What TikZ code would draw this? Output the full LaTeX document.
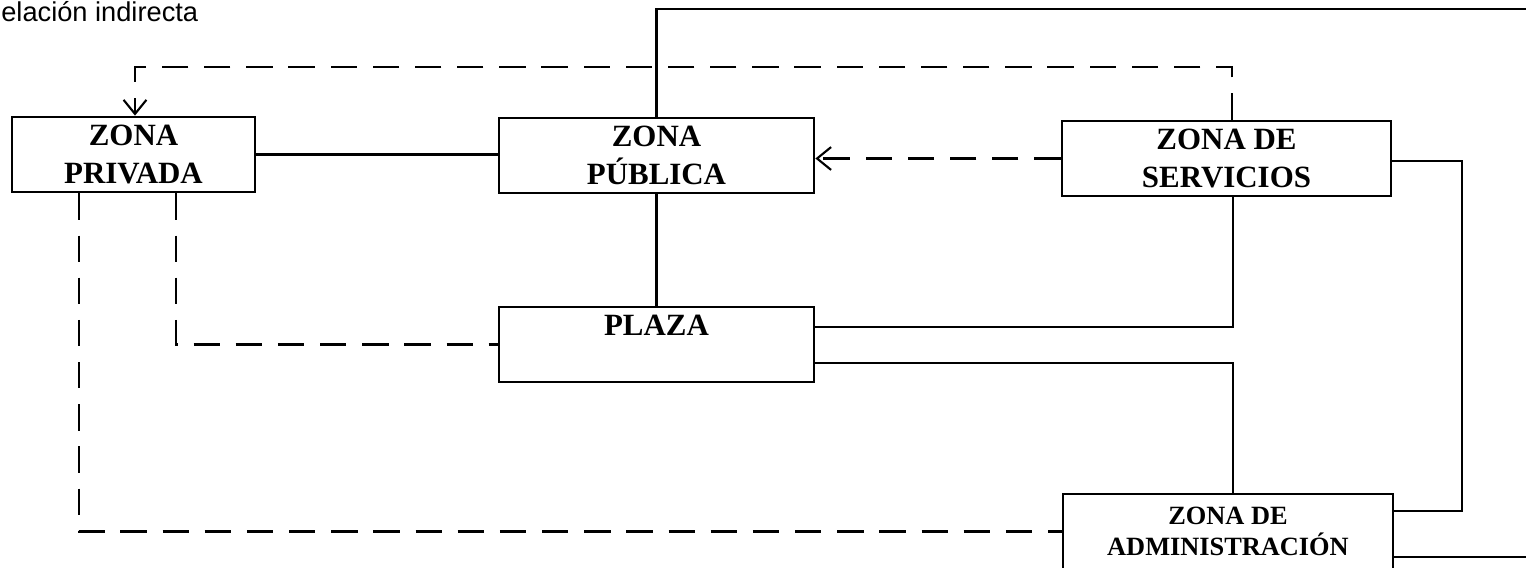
\documentclass[tikz,border=0pt]{standalone}
\usepackage{fontspec}
\setmainfont{Liberation Serif}
\newfontfamily\labelsans{Liberation Sans}
\usetikzlibrary{arrows.meta}
\begin{document}
\begin{tikzpicture}[x=0.02cm,y=-0.02cm,
  zonebox/.style={draw,line width=1.6pt,rectangle,minimum height=1.5cm,inner sep=0pt,align=center,
    font=\fontsize{17.6pt}{21.5pt}\selectfont\bfseries},
  solidline/.style={line width=1.4pt},
  dashline/.style={line width=1.4pt,dash pattern=on 15pt off 9pt},
  tip/.style={-{Straight Barb[length=8pt,width=13pt,line width=1.2pt]}}]
\useasboundingbox (0,0) rectangle (1526,568);
\clip (0,0) rectangle (1526,568);
\node[anchor=base west,inner sep=0pt,font=\labelsans\fontsize{15.5pt}{18pt}\selectfont] (lbl) at (1,21) {elación indirecta};
\node[zonebox,minimum width=4.86cm] (priv) at (133.5,154.5) {ZONA\\PRIVADA};
\node[zonebox,minimum width=6.3cm] (pub) at (656.5,155.5) {ZONA\\PÚBLICA};
\node[zonebox,minimum width=6.58cm] (serv) at (1226.5,158.5) {ZONA DE\\SERVICIOS};
\node[zonebox,minimum width=6.3cm] (plaza) at (656.5,344.5) {PLAZA\\\mbox{}};
\node[zonebox,minimum width=6.6cm,font=\fontsize{15pt}{17.6pt}\selectfont\bfseries] (admin) at (1228,531.5) {ZONA DE\\ADMINISTRACIÓN};
% coordinates for routing
\coordinate (topR) at (1600,9);
\coordinate (dashTop) at (1232,67);
\coordinate (servR) at (1462,161);
% solid connectors
\draw[solidline] (priv.east) -- (priv.east -| pub.west);
\draw[solidline] (pub.south) -- (plaza.north);
\draw[solidline] (pub.north) |- (topR) |- (admin.east |- 0,557);
\draw[solidline] (serv.east |- servR) -- (servR) |- (admin.east |- 0,511);
\draw[solidline] (plaza.east |- 0,327) -| (serv.south -| 1233,0);
\draw[solidline] (plaza.east |- 0,363) -| (admin.north -| 1233,0);
% dashed connectors
\draw[dashline,tip] (serv.north -| dashTop) -- (dashTop) -| (priv.north -| 135,0);
\draw[dashline,tip] (serv.west) -- (serv.west -| pub.east);
\draw[dashline] (priv.south -| 176,0) |- (plaza.west);
\draw[dashline] (priv.south -| 79,0) |- (admin.west);
\end{tikzpicture}
\end{document}
